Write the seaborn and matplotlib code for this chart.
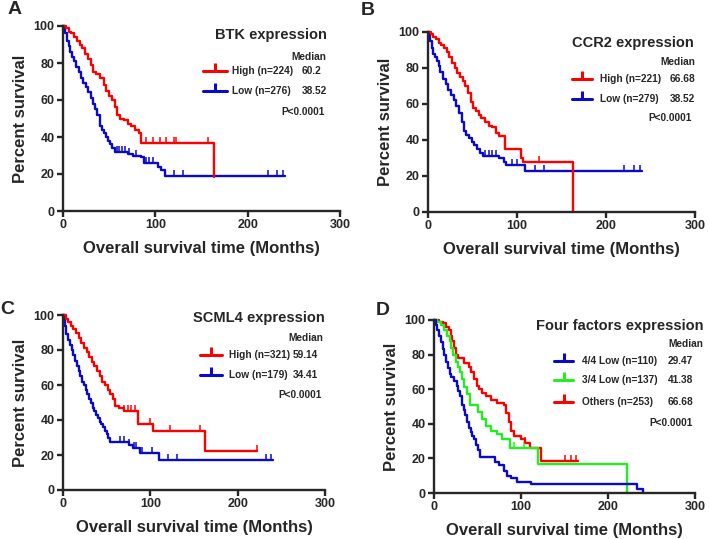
import numpy as np
import pandas as pd
import matplotlib
matplotlib.use('Agg')
import matplotlib.pyplot as plt
from matplotlib.lines import Line2D
import seaborn as sns

# ---- data (time in months, survival in %) ----
A_high_t = [0, 3, 6, 9, 12, 15, 18, 21, 24, 27, 30, 33, 36, 40, 44, 47, 50, 53, 56, 58, 62, 66, 70, 74, 78, 82, 85, 163]
A_high_s = [100, 99, 97, 96, 94, 92, 90, 88, 85, 82, 79, 75, 74, 72, 68, 65, 62, 60, 56, 52, 50, 49, 47, 46, 44, 42, 36.6, 18.5]
A_low_t = [0, 2, 4, 6, 8, 10, 12, 14, 17, 20, 22, 25, 27, 30, 33, 35, 37, 40, 42, 44, 47, 49, 51, 53, 56, 70, 76, 85, 88, 103, 106, 110, 240]
A_low_s = [100, 96, 92, 89, 86, 83, 81, 78, 75, 72, 69, 67, 64.5, 61, 58, 55, 52, 46, 44, 42, 40, 38, 36, 34, 32, 31, 30, 29, 26, 24, 22, 19, 19]
A_high_cens = [90, 97, 105, 112, 120, 122, 157]
A_low_cens = [58, 61, 64, 67, 72, 79, 90, 93, 97, 120, 130, 222, 232, 238]

B_high_t = [0, 3, 6, 9, 12, 15, 18, 21, 24, 27, 30, 33, 36, 39, 42, 45, 48, 51, 54, 57, 60, 64, 68, 72, 76, 80, 86, 104, 107, 163]
B_high_s = [100, 99, 97, 96, 94, 93, 91, 89, 86, 83, 80, 77, 75, 73, 70, 66, 61, 58, 56, 54, 52, 50, 48, 47, 44, 42, 35, 30, 28, 0]
B_low_t = [0, 2, 4, 6, 8, 10, 12, 14, 17, 20, 23, 26, 29, 32, 35, 38, 40, 43, 46, 49, 52, 55, 58, 62, 80, 85, 88, 109, 240]
B_low_s = [100, 95, 91, 88, 86, 84, 81, 78, 74, 71, 68, 65, 62, 59, 55, 50, 45, 43, 41, 39, 37, 35, 33, 31, 30, 28, 26, 23, 23]
B_high_cens = [125]
B_low_cens = [64, 68, 72, 76, 94, 100, 120, 130, 220, 232, 238]

C_high_t = [0, 3, 6, 9, 12, 15, 18, 21, 24, 27, 30, 33, 36, 39, 42, 45, 48, 51, 54, 57, 60, 64, 70, 86, 103, 163, 222]
C_high_s = [100, 98, 96, 94, 92, 90, 87, 84, 81, 79, 76, 73, 71, 68, 65, 62, 60, 57, 55, 52, 48, 47, 45, 38, 34, 22.5, 22.5]
C_low_t = [0, 2, 4, 6, 8, 10, 12, 14, 16, 18, 20, 22, 24, 26, 28, 30, 32, 34, 36, 38, 40, 42, 44, 46, 48, 50, 52, 54, 75, 80, 88, 110, 240]
C_low_s = [100, 94, 89, 86, 83, 80, 77, 74, 71, 68, 65, 62, 60, 57, 55, 52, 50, 47, 45, 43, 41, 39, 38, 36, 34, 32, 29.5, 27.5, 25.5, 24, 21, 17, 17]
C_high_cens = [70, 74, 78, 82, 86, 100, 122, 157, 222]
C_low_cens = [65, 70, 75, 81, 84, 90, 102, 120, 130, 232, 238]

D_low4_t = [0, 2, 4, 6, 8, 10, 12, 14, 16, 18, 20, 23, 26, 28, 30, 32, 34, 36, 38, 40, 42, 44, 46, 48, 50, 53, 70, 75, 80, 84, 88, 95, 111, 233, 240]
D_low4_s = [100, 97, 94, 91, 87, 83, 80, 76, 72, 69, 67, 65, 62, 59, 56, 51, 48, 45, 41, 37.5, 35, 33, 31, 28, 25, 21, 18, 16, 13, 10, 8.5, 6.5, 5, 2.5, 0]
D_low3_t = [0, 4, 8, 12, 15, 18, 20, 22, 25, 28, 30, 32, 35, 38, 41, 51, 55, 60, 66, 72, 78, 87, 120, 222]
D_low3_s = [100, 99, 97, 94, 91, 88, 84, 80, 76, 73, 70, 66, 61, 57, 51, 47, 43, 39, 36, 34, 31, 26, 17, 0]
D_other_t = [0, 6, 10, 14, 17, 19, 21, 23, 25, 28, 35, 40, 43, 46, 49, 52, 55, 60, 65, 72, 80, 83, 86, 89, 92, 100, 105, 110, 123, 165]
D_other_s = [100, 99, 98, 96, 94, 91, 88, 84, 80, 78, 75, 73, 70, 66, 62, 60, 58, 56, 54, 52, 51, 46, 41, 36, 33, 31, 29, 26, 18.5, 18.5]
D_low4_cens = []
D_low3_cens = [92, 104]
D_other_cens = [105, 150, 158, 163]

RED = '#FF0000'
BLUE = '#0A0AC8'
GREEN = '#22EE22'

panels = [
    dict(letter='A', title='BTK expression',
         groups=[('High (n=224)', '60.2', A_high_t, A_high_s, A_high_cens, RED),
                 ('Low (n=276)', '38.52', A_low_t, A_low_s, A_low_cens, BLUE)]),
    dict(letter='B', title='CCR2 expression',
         groups=[('High (n=221)', '66.68', B_high_t, B_high_s, B_high_cens, RED),
                 ('Low (n=279)', '38.52', B_low_t, B_low_s, B_low_cens, BLUE)]),
    dict(letter='C', title='SCML4 expression',
         groups=[('High (n=321)', '59.14', C_high_t, C_high_s, C_high_cens, RED),
                 ('Low (n=179)', '34.41', C_low_t, C_low_s, C_low_cens, BLUE)]),
    dict(letter='D', title='Four factors expression',
         groups=[('4/4 Low (n=110)', '29.47', D_low4_t, D_low4_s, D_low4_cens, BLUE),
                 ('3/4 Low (n=137)', '41.38', D_low3_t, D_low3_s, D_low3_cens, GREEN),
                 ('Others (n=253)', '66.68', D_other_t, D_other_s, D_other_cens, RED)]),
]

# layout in figure pixels: axes box (x0, x300, y100, y0), text anchors
layout = {
    'A': dict(box=(63, 340, 26, 211), letter=(8, 1), title=(327, 35), median=(326, 57),
              rows=[71, 91], p=(325, 112), handle=(203, 227), lab=232, val=302),
    'B': dict(box=(428, 695, 32, 212), letter=(361, 2), title=(694, 43), median=(695, 62),
              rows=[79, 99], p=(692, 118), handle=(572, 592), lab=600, val=670),
    'C': dict(box=(63, 325, 315, 490), letter=(0, 301), title=(325, 318), median=(323, 338),
              rows=[355, 375], p=(322, 395), handle=(200, 222), lab=229, val=293),
    'D': dict(box=(434, 695, 320, 493), letter=(376, 302), title=(703, 326), median=(703, 344),
              rows=[361, 380, 402], p=(693, 423), handle=(554, 573), lab=582, val=668),
}

sns.set_style('ticks')
plt.rcParams['font.family'] = ['Liberation Sans', 'DejaVu Sans']
plt.rcParams['font.weight'] = 'bold'
plt.rcParams['axes.labelweight'] = 'bold'

W, H = 709, 539
fig = plt.figure(figsize=(W / 100, H / 100), dpi=100)


def fx(x):
    return x / W


def fy(y):
    return 1 - y / H


for p in panels:
    L = layout[p['letter']]
    x0, x1, y1, y0 = L['box']
    ax = fig.add_axes([fx(x0), fy(y0), fx(x1) - fx(x0), fy(y1) - fy(y0)])

    rows = []
    for name, med, t, s, cens, col in p['groups']:
        rows.append(pd.DataFrame({'t': t, 's': s, 'group': name}))
    df = pd.concat(rows, ignore_index=True)
    pal = {g[0]: g[5] for g in p['groups']}
    # last group drawn first so the first listed sits on top
    order = [g[0] for g in p['groups']][::-1]
    for name in order:
        sub = df[df['group'] == name]
        sns.lineplot(data=sub, x='t', y='s', color=pal[name], estimator=None, sort=False,
                     drawstyle='steps-post', lw=1.7, ax=ax, legend=False, clip_on=False)
    for name, med, t, s, cens, col in p['groups']:
        if len(cens):
            t_arr = np.array(t)
            s_arr = np.array(s)
            idx = np.searchsorted(t_arr, cens, side='right') - 1
            ax.plot(cens, s_arr[idx], ls='none', marker=2, ms=4.5, mew=1.1, color=col, clip_on=False)

    ax.set_xlim(0, 300)
    ax.set_ylim(0, 100)
    ax.set_xticks([0, 100, 200, 300])
    ax.set_yticks([0, 20, 40, 60, 80, 100])
    sns.despine(ax=ax)
    for sp in ['left', 'bottom']:
        ax.spines[sp].set_linewidth(1.7)
    ax.tick_params(width=1.7, length=4, labelsize=9, pad=2)
    for lbl in ax.get_xticklabels() + ax.get_yticklabels():
        lbl.set_fontweight('bold')
    ax.set_xlabel('Overall survival time (Months)', fontsize=12, fontweight='bold', labelpad=7)
    ax.set_ylabel('Percent survival', fontsize=12, fontweight='bold', labelpad=4)

    # panel letter
    lx, ly = L['letter']
    fig.text(fx(lx), fy(ly), p['letter'], fontsize=14, fontweight='bold', va='top', ha='left')
    # title, median header, p value
    tx, ty = L['title']
    fig.text(fx(tx), fy(ty), p['title'], fontsize=10.5, fontweight='bold', ha='right', va='center')
    mx, my = L['median']
    fig.text(fx(mx), fy(my), 'Median', fontsize=7.3, fontweight='bold', ha='right', va='center')
    px, py = L['p']
    fig.text(fx(px), fy(py), 'P<0.0001', fontsize=7.3, fontweight='bold', ha='right', va='center')
    # legend rows
    h0, h1 = L['handle']
    for (name, med, t, s, cens, col), ry in zip(p['groups'], L['rows']):
        hm = (h0 + h1) / 2
        fig.add_artist(Line2D([fx(h0), fx(hm), fx(h1)], [fy(ry)] * 3, transform=fig.transFigure,
                              color=col, lw=2.2, marker=2, markevery=[1], ms=6, mew=2.2))
        fig.text(fx(L['lab']), fy(ry), name, fontsize=7.3, fontweight='bold', ha='left', va='center')
        fig.text(fx(L['val']), fy(ry), med, fontsize=7.3, fontweight='bold', ha='left', va='center')

fig.savefig('out.png', dpi=100)
